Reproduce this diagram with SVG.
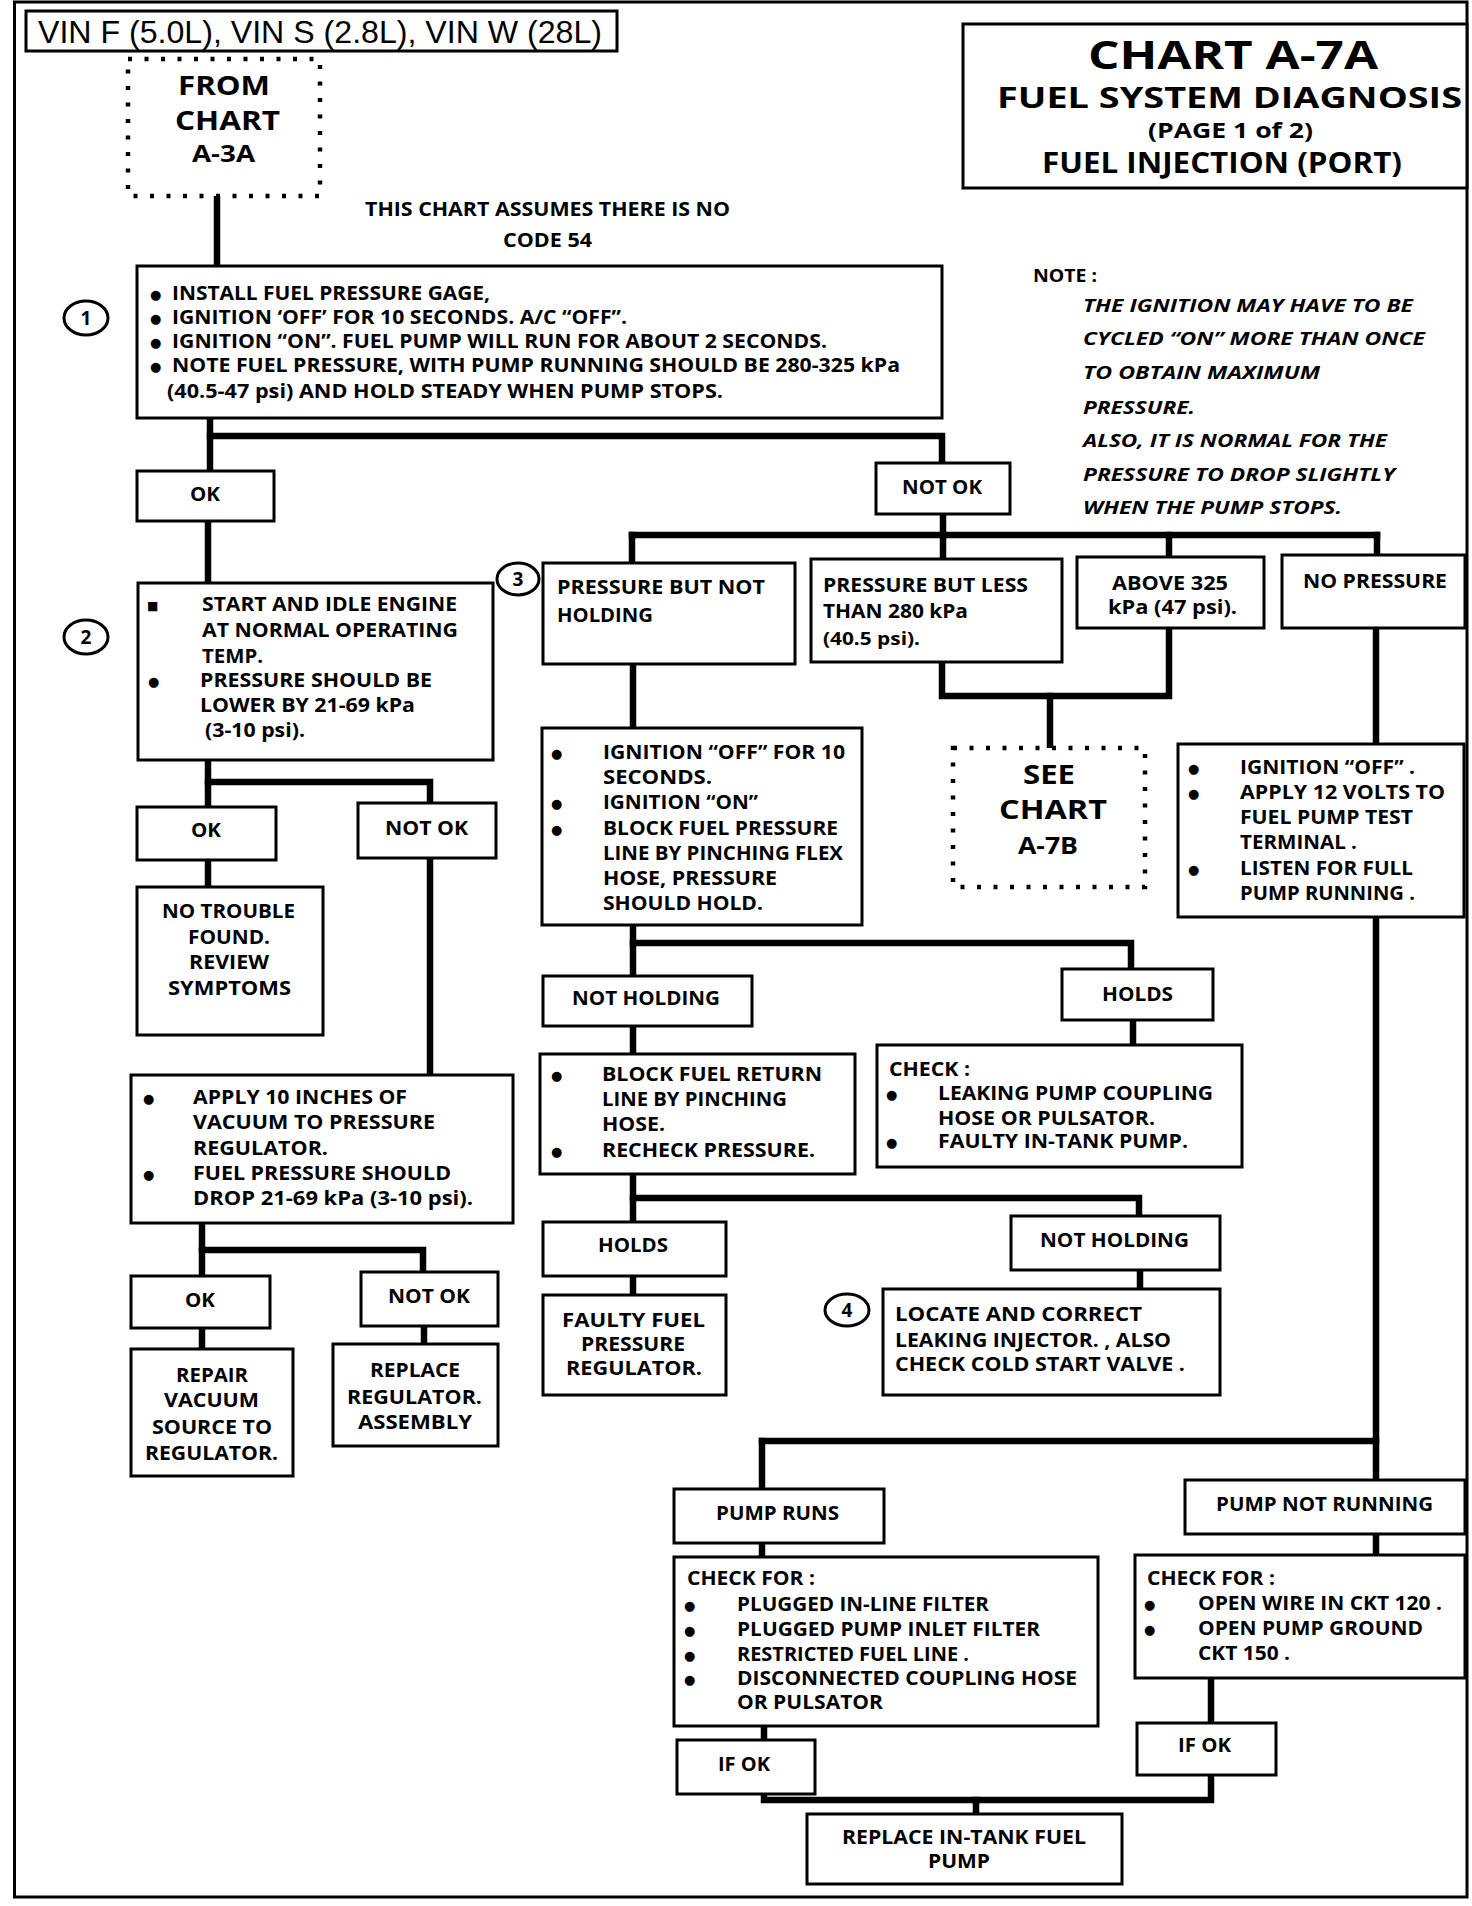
<svg xmlns="http://www.w3.org/2000/svg" width="1472" height="1906" viewBox="0 0 1472 1906">
<style>
.box{fill:#fff;stroke:#000;stroke-width:3}
.dot{fill:#fff;stroke:#000;stroke-width:4.5;stroke-dasharray:4 12.5}
.conn path{fill:none;stroke:#000;stroke-width:6.5;stroke-linecap:square}
text{font-family:'Open Sans','Noto Sans','DejaVu Sans',sans-serif;font-weight:700;font-size:19px;fill:#000}
.b{font-family:'DejaVu Sans',sans-serif;font-size:13px;font-weight:400}
.sq{font-family:'DejaVu Sans',sans-serif;font-size:12px;font-weight:400}
.ni{font-style:italic;font-size:18px}
.hd{font-family:'Liberation Sans',Arial,sans-serif;font-weight:400;font-size:32px}
.big{font-size:27px}
.mid{font-size:24px}
.num{font-size:19px;text-anchor:middle}
</style>
<rect x="14.5" y="2" width="1452.5" height="1895" fill="#fff" stroke="#000" stroke-width="3"/>

<g class="conn" id="connectors">
<path d="M217,196 V265"/>
<path d="M210,418 V471"/>
<path d="M210,436 H942 V463"/>
<path d="M208,522 V583"/>
<path d="M943,514 V535"/>
<path d="M632,535 H1377"/>
<path d="M632,535 V563"/>
<path d="M943,535 V559"/>
<path d="M1169,535 V557"/>
<path d="M1377,535 V555"/>
<path d="M942,662 V696 H1169 V628"/>
<path d="M1050,696 V748"/>
<path d="M1376,628 V744"/>
<path d="M1376,917 V1480"/>
<path d="M762,1441 H1376"/>
<path d="M762,1441 V1489"/>
<path d="M208,760 V807"/>
<path d="M208,782 H430 V803"/>
<path d="M430,858 V1075"/>
<path d="M208,860 V887"/>
<path d="M202,1223 V1276"/>
<path d="M202,1250 H423 V1272"/>
<path d="M202,1328 V1349"/>
<path d="M424,1326 V1344"/>
<path d="M633,664 V728"/>
<path d="M633,925 V976"/>
<path d="M633,943 H1131 V969"/>
<path d="M1133,1020 V1045"/>
<path d="M633,1026 V1054"/>
<path d="M633,1174 V1222"/>
<path d="M633,1198 H1139 V1216"/>
<path d="M633,1276 V1295"/>
<path d="M1140,1270 V1289"/>
<path d="M762,1543 V1557"/>
<path d="M1376,1534 V1555"/>
<path d="M764,1726 V1740"/>
<path d="M764,1794 V1800 H1211 V1775"/>
<path d="M976,1800 V1814"/>
<path d="M1211,1678 V1723"/>
</g>

<g id="vin">
<rect class="box" x="26" y="11" width="591" height="40"/>
<text class="hd" x="38" y="43" textLength="564" lengthAdjust="spacingAndGlyphs">VIN F (5.0L), VIN S (2.8L), VIN W (28L)</text>
</g>

<g id="from-chart">
<rect class="dot" x="128" y="59" width="192" height="137"/>
<text class="big" x="178" y="95" textLength="92" lengthAdjust="spacingAndGlyphs">FROM</text>
<text class="big" x="175" y="130" textLength="105" lengthAdjust="spacingAndGlyphs">CHART</text>
<text class="mid" x="192" y="162" textLength="63" lengthAdjust="spacingAndGlyphs">A-3A</text>
</g>

<g id="title">
<rect x="963" y="24" width="504" height="164" fill="#fff" stroke="#000" stroke-width="3"/>
<text x="1088" y="69" style="font-size:40px" textLength="290" lengthAdjust="spacingAndGlyphs">CHART A-7A</text>
<text x="997" y="108" style="font-size:29px" textLength="465" lengthAdjust="spacingAndGlyphs">FUEL  SYSTEM DIAGNOSIS</text>
<text x="1148" y="138" style="font-size:22px" textLength="165" lengthAdjust="spacingAndGlyphs">(PAGE 1 of 2)</text>
<text x="1042" y="173" style="font-size:29px" textLength="360" lengthAdjust="spacingAndGlyphs">FUEL INJECTION (PORT)</text>
</g>

<g id="assumes">
<text x="365" y="216" textLength="365" lengthAdjust="spacingAndGlyphs">THIS CHART ASSUMES THERE IS NO</text>
<text x="503" y="247" textLength="89" lengthAdjust="spacingAndGlyphs">CODE 54</text>
</g>

<g id="note">
<text x="1033" y="282" style="font-size:18px" textLength="64" lengthAdjust="spacingAndGlyphs">NOTE :</text>
<text class="ni" x="1083" y="312" textLength="330" lengthAdjust="spacingAndGlyphs">THE IGNITION MAY HAVE TO BE</text>
<text class="ni" x="1083" y="345" textLength="342" lengthAdjust="spacingAndGlyphs">CYCLED “ON” MORE THAN ONCE</text>
<text class="ni" x="1083" y="379" textLength="237" lengthAdjust="spacingAndGlyphs">TO OBTAIN MAXIMUM</text>
<text class="ni" x="1083" y="414" textLength="112" lengthAdjust="spacingAndGlyphs">PRESSURE.</text>
<text class="ni" x="1083" y="447" textLength="304" lengthAdjust="spacingAndGlyphs">ALSO, IT IS NORMAL FOR THE</text>
<text class="ni" x="1083" y="481" textLength="312" lengthAdjust="spacingAndGlyphs">PRESSURE TO DROP SLIGHTLY</text>
<text class="ni" x="1083" y="514" textLength="259" lengthAdjust="spacingAndGlyphs">WHEN THE PUMP STOPS.</text>
</g>

<g id="step1">
<ellipse cx="86" cy="318" rx="22" ry="17" fill="#fff" stroke="#000" stroke-width="3"/>
<text class="num" x="86" y="325">1</text>
</g>
<g id="box1">
<rect class="box" x="137" y="266" width="805" height="152"/>
<text class="b" x="150" y="299">●</text>
<text class="b" x="150" y="323">●</text>
<text class="b" x="150" y="347">●</text>
<text class="b" x="150" y="371">●</text>
<text x="172" y="300" textLength="318" lengthAdjust="spacingAndGlyphs">INSTALL FUEL PRESSURE GAGE,</text>
<text x="172" y="324" textLength="455" lengthAdjust="spacingAndGlyphs">IGNITION ‘OFF’ FOR 10 SECONDS.  A/C “OFF”.</text>
<text x="172" y="348" textLength="655" lengthAdjust="spacingAndGlyphs">IGNITION “ON”.  FUEL PUMP WILL RUN FOR ABOUT 2 SECONDS.</text>
<text x="172" y="372" textLength="728" lengthAdjust="spacingAndGlyphs">NOTE FUEL PRESSURE, WITH PUMP RUNNING  SHOULD BE 280-325 kPa</text>
<text x="167" y="398" textLength="556" lengthAdjust="spacingAndGlyphs">(40.5-47 psi) AND HOLD STEADY WHEN PUMP STOPS.</text>
</g>

<g id="ok1">
<rect class="box" x="137" y="471" width="137" height="50"/>
<text x="190" y="501" textLength="30" lengthAdjust="spacingAndGlyphs">OK</text>
</g>
<g id="notok1">
<rect class="box" x="876" y="463" width="134" height="51"/>
<text x="902" y="494" textLength="80" lengthAdjust="spacingAndGlyphs">NOT OK</text>
</g>

<g id="step2">
<ellipse cx="86" cy="637" rx="22" ry="17" fill="#fff" stroke="#000" stroke-width="3"/>
<text class="num" x="86" y="644">2</text>
</g>
<g id="box2">
<rect class="box" x="138" y="583" width="355" height="177"/>
<text class="sq" x="147" y="610">■</text>
<text class="b" x="148" y="686">●</text>
<text x="202" y="611" textLength="255" lengthAdjust="spacingAndGlyphs">START AND IDLE ENGINE</text>
<text x="202" y="637" textLength="256" lengthAdjust="spacingAndGlyphs">AT NORMAL OPERATING</text>
<text x="202" y="663" textLength="61" lengthAdjust="spacingAndGlyphs">TEMP.</text>
<text x="200" y="687" textLength="232" lengthAdjust="spacingAndGlyphs">PRESSURE SHOULD BE</text>
<text x="200" y="712" textLength="215" lengthAdjust="spacingAndGlyphs">LOWER BY 21-69 kPa</text>
<text x="205" y="737" textLength="100" lengthAdjust="spacingAndGlyphs">(3-10 psi).</text>
</g>

<g id="ok2">
<rect class="box" x="137" y="807" width="139" height="53"/>
<text x="191" y="837" textLength="30" lengthAdjust="spacingAndGlyphs">OK</text>
</g>
<g id="notok2">
<rect class="box" x="358" y="803" width="138" height="55"/>
<text x="385" y="835" textLength="83" lengthAdjust="spacingAndGlyphs">NOT OK</text>
</g>
<g id="no-trouble">
<rect class="box" x="137" y="887" width="186" height="148"/>
<text x="162" y="918" textLength="133" lengthAdjust="spacingAndGlyphs">NO TROUBLE</text>
<text x="188" y="944" textLength="82" lengthAdjust="spacingAndGlyphs">FOUND.</text>
<text x="189" y="969" textLength="80" lengthAdjust="spacingAndGlyphs">REVIEW</text>
<text x="168" y="995" textLength="123" lengthAdjust="spacingAndGlyphs">SYMPTOMS</text>
</g>

<g id="apply-vacuum">
<rect class="box" x="131" y="1075" width="382" height="148"/>
<text class="b" x="143" y="1103">●</text>
<text class="b" x="143" y="1179">●</text>
<text x="193" y="1104" textLength="214" lengthAdjust="spacingAndGlyphs">APPLY 10 INCHES OF</text>
<text x="193" y="1129" textLength="242" lengthAdjust="spacingAndGlyphs">VACUUM TO PRESSURE</text>
<text x="193" y="1155" textLength="135" lengthAdjust="spacingAndGlyphs">REGULATOR.</text>
<text x="193" y="1180" textLength="258" lengthAdjust="spacingAndGlyphs">FUEL PRESSURE SHOULD</text>
<text x="193" y="1205" textLength="280" lengthAdjust="spacingAndGlyphs">DROP  21-69 kPa  (3-10 psi).</text>
</g>

<g id="ok3">
<rect class="box" x="131" y="1276" width="139" height="52"/>
<text x="185" y="1307" textLength="30" lengthAdjust="spacingAndGlyphs">OK</text>
</g>
<g id="notok3">
<rect class="box" x="361" y="1272" width="137" height="54"/>
<text x="388" y="1303" textLength="82" lengthAdjust="spacingAndGlyphs">NOT OK</text>
</g>
<g id="repair-vacuum">
<rect class="box" x="131" y="1349" width="162" height="127"/>
<text x="176" y="1382" textLength="72" lengthAdjust="spacingAndGlyphs">REPAIR</text>
<text x="164" y="1407" textLength="95" lengthAdjust="spacingAndGlyphs">VACUUM</text>
<text x="152" y="1434" textLength="120" lengthAdjust="spacingAndGlyphs">SOURCE TO</text>
<text x="145" y="1460" textLength="133" lengthAdjust="spacingAndGlyphs">REGULATOR.</text>
</g>
<g id="replace-regulator">
<rect class="box" x="333" y="1344" width="165" height="102"/>
<text x="370" y="1377" textLength="90" lengthAdjust="spacingAndGlyphs">REPLACE</text>
<text x="347" y="1404" textLength="135" lengthAdjust="spacingAndGlyphs">REGULATOR.</text>
<text x="358" y="1429" textLength="114" lengthAdjust="spacingAndGlyphs">ASSEMBLY</text>
</g>

<g id="step3">
<ellipse cx="518" cy="579" rx="21" ry="16" fill="#fff" stroke="#000" stroke-width="3"/>
<text class="num" x="518" y="586">3</text>
</g>
<g id="not-holding-pressure">
<rect class="box" x="543" y="563" width="252" height="101"/>
<text x="557" y="594" textLength="208" lengthAdjust="spacingAndGlyphs">PRESSURE  BUT NOT</text>
<text x="557" y="622" textLength="96" lengthAdjust="spacingAndGlyphs">HOLDING</text>
</g>
<g id="less-than-280">
<rect class="box" x="811" y="559" width="251" height="103"/>
<text x="823" y="592" textLength="205" lengthAdjust="spacingAndGlyphs">PRESSURE BUT LESS</text>
<text x="823" y="618" textLength="145" lengthAdjust="spacingAndGlyphs">THAN 280 kPa</text>
<text x="823" y="645" style="font-size:18px" textLength="97" lengthAdjust="spacingAndGlyphs">(40.5 psi).</text>
</g>
<g id="above-325">
<rect class="box" x="1077" y="557" width="187" height="71"/>
<text x="1112" y="590" textLength="116" lengthAdjust="spacingAndGlyphs">ABOVE 325</text>
<text x="1108" y="614" textLength="129" lengthAdjust="spacingAndGlyphs">kPa (47 psi).</text>
</g>
<g id="no-pressure">
<rect class="box" x="1282" y="555" width="183" height="73"/>
<text x="1303" y="588" textLength="144" lengthAdjust="spacingAndGlyphs">NO PRESSURE</text>
</g>

<g id="see-chart">
<rect class="dot" x="953" y="748" width="192" height="139"/>
<text class="big" x="1023" y="784" textLength="52" lengthAdjust="spacingAndGlyphs">SEE</text>
<text class="big" x="999" y="819" textLength="108" lengthAdjust="spacingAndGlyphs">CHART</text>
<text class="mid" x="1018" y="854" textLength="60" lengthAdjust="spacingAndGlyphs">A-7B</text>
</g>

<g id="pinch-test">
<rect class="box" x="542" y="728" width="320" height="197"/>
<text class="b" x="551" y="758">●</text>
<text class="b" x="551" y="808">●</text>
<text class="b" x="551" y="834">●</text>
<text x="603" y="759" textLength="242" lengthAdjust="spacingAndGlyphs">IGNITION “OFF” FOR 10</text>
<text x="603" y="784" textLength="109" lengthAdjust="spacingAndGlyphs">SECONDS.</text>
<text x="603" y="809" textLength="155" lengthAdjust="spacingAndGlyphs">IGNITION “ON”</text>
<text x="603" y="835" textLength="235" lengthAdjust="spacingAndGlyphs">BLOCK FUEL PRESSURE</text>
<text x="603" y="860" textLength="240" lengthAdjust="spacingAndGlyphs">LINE BY PINCHING FLEX</text>
<text x="603" y="885" textLength="174" lengthAdjust="spacingAndGlyphs">HOSE, PRESSURE</text>
<text x="603" y="910" textLength="160" lengthAdjust="spacingAndGlyphs">SHOULD HOLD.</text>
</g>

<g id="pump-test">
<rect class="box" x="1178" y="744" width="286" height="173"/>
<text class="b" x="1188" y="773">●</text>
<text class="b" x="1188" y="798">●</text>
<text class="b" x="1188" y="874">●</text>
<text x="1240" y="774" textLength="175" lengthAdjust="spacingAndGlyphs">IGNITION “OFF” .</text>
<text x="1240" y="799" textLength="205" lengthAdjust="spacingAndGlyphs">APPLY 12 VOLTS TO</text>
<text x="1240" y="824" textLength="173" lengthAdjust="spacingAndGlyphs">FUEL PUMP TEST</text>
<text x="1240" y="849" textLength="117" lengthAdjust="spacingAndGlyphs">TERMINAL .</text>
<text x="1240" y="875" textLength="173" lengthAdjust="spacingAndGlyphs">LISTEN FOR FULL</text>
<text x="1240" y="900" textLength="175" lengthAdjust="spacingAndGlyphs">PUMP RUNNING .</text>
</g>

<g id="not-holding-1">
<rect class="box" x="543" y="976" width="209" height="50"/>
<text x="572" y="1005" textLength="148" lengthAdjust="spacingAndGlyphs">NOT HOLDING</text>
</g>
<g id="holds-1">
<rect class="box" x="1062" y="969" width="151" height="51"/>
<text x="1102" y="1001" textLength="71" lengthAdjust="spacingAndGlyphs">HOLDS</text>
</g>
<g id="check-leaking">
<rect class="box" x="877" y="1045" width="365" height="122"/>
<text x="889" y="1076" textLength="81" lengthAdjust="spacingAndGlyphs">CHECK :</text>
<text class="b" x="886" y="1099">●</text>
<text class="b" x="886" y="1147">●</text>
<text x="938" y="1100" textLength="275" lengthAdjust="spacingAndGlyphs">LEAKING PUMP COUPLING</text>
<text x="938" y="1125" textLength="217" lengthAdjust="spacingAndGlyphs">HOSE OR PULSATOR.</text>
<text x="938" y="1148" textLength="250" lengthAdjust="spacingAndGlyphs">FAULTY IN-TANK PUMP.</text>
</g>
<g id="block-return">
<rect class="box" x="540" y="1054" width="315" height="120"/>
<text class="b" x="551" y="1080">●</text>
<text class="b" x="551" y="1156">●</text>
<text x="602" y="1081" textLength="220" lengthAdjust="spacingAndGlyphs">BLOCK  FUEL RETURN</text>
<text x="602" y="1106" textLength="185" lengthAdjust="spacingAndGlyphs">LINE BY PINCHING</text>
<text x="602" y="1131" textLength="63" lengthAdjust="spacingAndGlyphs">HOSE.</text>
<text x="602" y="1157" textLength="213" lengthAdjust="spacingAndGlyphs">RECHECK PRESSURE.</text>
</g>
<g id="holds-2">
<rect class="box" x="543" y="1222" width="183" height="54"/>
<text x="598" y="1252" textLength="70" lengthAdjust="spacingAndGlyphs">HOLDS</text>
</g>
<g id="not-holding-2">
<rect class="box" x="1011" y="1216" width="209" height="54"/>
<text x="1040" y="1247" textLength="149" lengthAdjust="spacingAndGlyphs">NOT HOLDING</text>
</g>
<g id="faulty-regulator">
<rect class="box" x="543" y="1295" width="183" height="100"/>
<text x="562" y="1327" textLength="143" lengthAdjust="spacingAndGlyphs">FAULTY  FUEL</text>
<text x="581" y="1351" textLength="104" lengthAdjust="spacingAndGlyphs">PRESSURE</text>
<text x="566" y="1375" textLength="136" lengthAdjust="spacingAndGlyphs">REGULATOR.</text>
</g>
<g id="step4">
<ellipse cx="847" cy="1310" rx="22" ry="16" fill="#fff" stroke="#000" stroke-width="3"/>
<text class="num" x="847" y="1317">4</text>
</g>
<g id="locate-injector">
<rect class="box" x="883" y="1289" width="337" height="106"/>
<text x="895" y="1321" textLength="247" lengthAdjust="spacingAndGlyphs">LOCATE  AND  CORRECT</text>
<text x="895" y="1347" textLength="276" lengthAdjust="spacingAndGlyphs">LEAKING INJECTOR. , ALSO</text>
<text x="895" y="1371" textLength="290" lengthAdjust="spacingAndGlyphs">CHECK COLD START VALVE .</text>
</g>

<g id="pump-runs">
<rect class="box" x="674" y="1489" width="210" height="54"/>
<text x="716" y="1520" textLength="123" lengthAdjust="spacingAndGlyphs">PUMP RUNS</text>
</g>
<g id="pump-not-running">
<rect class="box" x="1185" y="1480" width="280" height="54"/>
<text x="1216" y="1511" textLength="217" lengthAdjust="spacingAndGlyphs">PUMP NOT RUNNING</text>
</g>
<g id="check-for-filters">
<rect class="box" x="674" y="1557" width="424" height="169"/>
<text x="687" y="1585" textLength="128" lengthAdjust="spacingAndGlyphs">CHECK FOR :</text>
<text class="b" x="684" y="1610">●</text>
<text class="b" x="684" y="1635">●</text>
<text class="b" x="684" y="1660">●</text>
<text class="b" x="684" y="1684">●</text>
<text x="737" y="1611" textLength="252" lengthAdjust="spacingAndGlyphs">PLUGGED IN-LINE FILTER</text>
<text x="737" y="1636" textLength="303" lengthAdjust="spacingAndGlyphs">PLUGGED PUMP INLET FILTER</text>
<text x="737" y="1661" textLength="232" lengthAdjust="spacingAndGlyphs">RESTRICTED FUEL LINE .</text>
<text x="737" y="1685" textLength="340" lengthAdjust="spacingAndGlyphs">DISCONNECTED COUPLING HOSE</text>
<text x="737" y="1709" textLength="146" lengthAdjust="spacingAndGlyphs">OR PULSATOR</text>
</g>
<g id="check-for-circuit">
<rect class="box" x="1135" y="1555" width="330" height="123"/>
<text x="1147" y="1585" textLength="128" lengthAdjust="spacingAndGlyphs">CHECK FOR :</text>
<text class="b" x="1144" y="1609">●</text>
<text class="b" x="1144" y="1634">●</text>
<text x="1198" y="1610" textLength="244" lengthAdjust="spacingAndGlyphs">OPEN WIRE IN CKT 120 .</text>
<text x="1198" y="1635" textLength="225" lengthAdjust="spacingAndGlyphs">OPEN PUMP GROUND</text>
<text x="1198" y="1660" textLength="92" lengthAdjust="spacingAndGlyphs">CKT 150 .</text>
</g>
<g id="if-ok-1">
<rect class="box" x="677" y="1740" width="138" height="54"/>
<text x="718" y="1771" textLength="52" lengthAdjust="spacingAndGlyphs">IF OK</text>
</g>
<g id="if-ok-2">
<rect class="box" x="1137" y="1723" width="139" height="52"/>
<text x="1178" y="1752" textLength="53" lengthAdjust="spacingAndGlyphs">IF OK</text>
</g>
<g id="replace-pump">
<rect class="box" x="807" y="1814" width="315" height="70"/>
<text x="842" y="1844" textLength="244" lengthAdjust="spacingAndGlyphs">REPLACE  IN-TANK FUEL</text>
<text x="928" y="1868" textLength="62" lengthAdjust="spacingAndGlyphs">PUMP</text>
</g>
</svg>
